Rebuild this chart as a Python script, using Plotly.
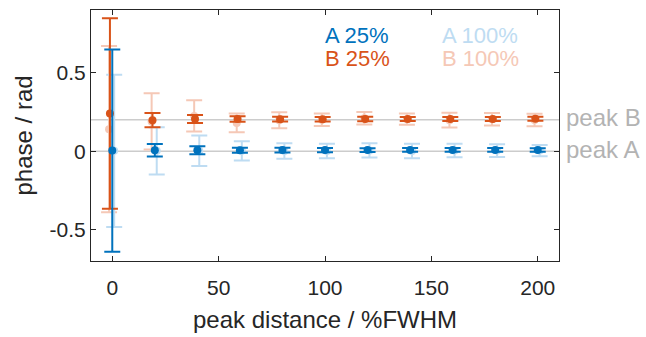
import plotly.graph_objects as go

# ---- data ----
peak_distance = [0, 20, 40, 60, 80, 100, 120, 140, 160, 180, 200]

a25_mean = [0.004, 0.006, 0.006, 0.006, 0.007, 0.007, 0.007, 0.008, 0.008, 0.008, 0.008]
a25_err = [0.645, 0.040, 0.025, 0.016, 0.015, 0.013, 0.012, 0.012, 0.012, 0.012, 0.011]

a100_mean = [0.002, 0.002, 0.003, 0.002, 0.001, 0.001, 0.005, 0.001, 0.004, 0.004, 0.004]
a100_err = [0.485, 0.151, 0.097, 0.062, 0.050, 0.046, 0.045, 0.046, 0.043, 0.041, 0.036]

b25_mean = [0.240, 0.198, 0.205, 0.205, 0.204, 0.204, 0.205, 0.205, 0.205, 0.205, 0.207]
b25_err = [0.607, 0.045, 0.025, 0.017, 0.015, 0.014, 0.014, 0.013, 0.013, 0.013, 0.013]

b100_mean = [0.140, 0.190, 0.225, 0.180, 0.198, 0.200, 0.210, 0.204, 0.198, 0.204, 0.199]
b100_err = [0.530, 0.180, 0.100, 0.060, 0.051, 0.040, 0.040, 0.036, 0.047, 0.040, 0.040]

# small horizontal jitter of each series (x units)
jitter = {"A 25%": 0.0, "A 100%": 0.9, "B 25%": -1.1, "B 100%": -1.5}

peak_levels = {"peak A": 0.0, "peak B": 0.2}

x_ticks = [0, 50, 100, 150, 200]
y_ticks = [-0.5, 0, 0.5]
y_tick_text = ["-0.5", "0", "0.5"]

x_title = "peak distance / %FWHM"
y_title = "phase / rad"

# ---- styles ----
BLUE = "#0072BD"
ORANGE = "#D95319"
LBLUE = "rgb(190,220,242)"
LORANGE = "rgb(245,200,182)"
FONT = "Liberation Sans, Arial, sans-serif"
AX = "#262626"

W, H = 646, 337
ML, MR, MT, MB = 91, 87, 10, 76
PW, PH = W - ML - MR, H - MT - MB

fig = go.Figure()

series = [
    ("B 100%", b100_mean, b100_err, LORANGE),
    ("A 100%", a100_mean, a100_err, LBLUE),
    ("B 25%", b25_mean, b25_err, ORANGE),
    ("A 25%", a25_mean, a25_err, BLUE),
]

for name, m, e, c in series:
    xs = [d + jitter[name] for d in peak_distance]
    fig.add_trace(go.Scatter(
        x=xs, y=m, mode="markers", name=name,
        marker=dict(color=c, size=8),
        error_y=dict(type="data", array=e, visible=True, color=c,
                     thickness=2, width=8),
        showlegend=False,
    ))

for label, lv in peak_levels.items():
    fig.add_shape(type="line", xref="paper", yref="y", x0=0, x1=1, y0=lv, y1=lv,
                  line=dict(color="#CCCCCC", width=1.5), layer="below")
    fig.add_annotation(xref="paper", yref="y", x=1, y=lv, text=label,
                       showarrow=False, xanchor="left", yanchor="middle",
                       xshift=5, yshift=2,
                       font=dict(family=FONT, size=24, color="#B3B3B3"))

legend_items = [
    ("A 25%", 100, 0.738, BLUE),
    ("B 25%", 100, 0.592, ORANGE),
    ("A 100%", 155, 0.738, LBLUE),
    ("B 100%", 155, 0.592, LORANGE),
]
for t, lx, ly, c in legend_items:
    fig.add_annotation(xref="x", yref="y", x=lx, y=ly, text=t, showarrow=False,
                       xanchor="left", yanchor="middle", xshift=-2,
                       font=dict(family=FONT, size=22, color=c))

# axis titles as annotations (fixed placement)
fig.add_annotation(xref="paper", yref="paper", x=0.5, y=-(319 - (MT + PH)) / PH,
                   text=x_title, showarrow=False, xanchor="center", yanchor="middle",
                   font=dict(family=FONT, size=24, color=AX))
fig.add_annotation(xref="paper", yref="paper", x=-(ML - 23) / PW, y=0.5,
                   text=y_title, showarrow=False, textangle=-90,
                   xanchor="center", yanchor="middle",
                   font=dict(family=FONT, size=24, color=AX))

axis_common = dict(showline=True, linecolor=AX, linewidth=1, mirror="ticks",
                   ticks="inside", ticklen=5, tickcolor=AX, showgrid=False,
                   zeroline=False, automargin=False,
                   tickfont=dict(family=FONT, size=21, color=AX))

fig.update_xaxes(range=[-10, 210], tickvals=x_ticks, ticklabelstandoff=8,
                 **axis_common)
fig.update_yaxes(range=[-0.7, 0.9], tickvals=y_ticks, ticktext=y_tick_text,
                 **axis_common)

fig.update_layout(
    width=W, height=H,
    margin=dict(l=ML, r=MR, t=MT, b=MB),
    plot_bgcolor="white", paper_bgcolor="white",
    font=dict(family=FONT, color=AX),
)

fig.write_html("out.html",
               config={"displayModeBar": False, "staticPlot": True},
               post_script="document.body.style.margin='0';document.body.style.overflow='hidden';")
